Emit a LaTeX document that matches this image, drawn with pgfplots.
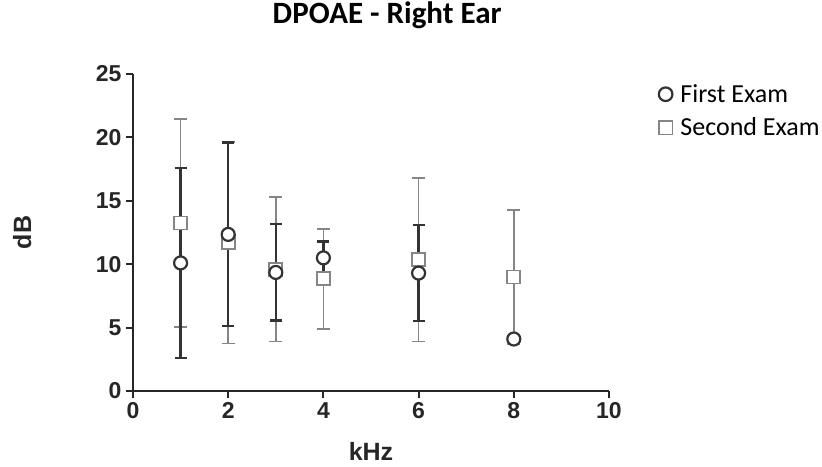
\documentclass[border=0pt]{standalone}
\usepackage{fontspec}
\setmainfont{Liberation Sans}
\newfontfamily\calibri{Carlito}
\usepackage{pgfplots}
\pgfplotsset{compat=1.18}

\definecolor{firstc}{HTML}{333333}
\definecolor{secondc}{HTML}{858585}

% x, mean, sd
\pgfplotstableread{
x  y     e
1  10.10 7.50
2  12.35 7.25
3  9.35  3.80
4  10.50 1.30
6  9.30  3.80
8  4.10  0.00
}\firstexam
\pgfplotstableread{
x  y     e
1  13.25 8.20
2  11.70 7.95
3  9.60  5.70
4  8.85  3.95
6  10.35 6.45
8  9.00  5.30
}\secondexam

\begin{document}
\begin{tikzpicture}
\path[use as bounding box] (-133pt,-75pt) rectangle (689pt,391pt);
\begin{axis}[
    scale only axis,
    width=476pt, height=317pt,
    xmin=0, xmax=10, ymin=0, ymax=25,
    xtick={0,2,...,10}, ytick={0,5,...,25},
    axis lines*=left,
    axis line style={line width=2.6pt, color=black!85},
    tick align=outside,
    major tick length=7pt,
    tick style={line width=2pt, color=black!85},
    /pgf/number format/assume math mode=true,
    ticklabel style={font=\bfseries\fontsize{23}{25}\selectfont, text=black!85},
    xticklabel style={yshift=-1pt},
    yticklabel style={xshift=-1pt},
    xlabel={kHz}, ylabel={dB},
    every axis x label/.style={at={(axis description cs:0.5,-0.19)}, anchor=center,
        font=\bfseries\fontsize{25}{27}\selectfont, text=black!85},
    every axis y label/.style={at={(axis description cs:-0.233,0.5)}, anchor=center, rotate=90,
        font=\bfseries\fontsize{25}{27}\selectfont, text=black!85},
    title={DPOAE - Right Ear},
    title style={font=\calibri\bfseries\fontsize{31}{33}\selectfont, at={(axis description cs:0.534,1)}, anchor=center, yshift=53pt},
    legend style={at={(axis description cs:1.098,0.98)}, anchor=north west, draw=none, fill=none,
        font=\calibri\fontsize{26}{28}\selectfont, row sep=10pt,
        /tikz/every odd column/.append style={column sep=6pt}},
    legend image post style={mark size=6.8pt},
    legend cell align=left,
    reverse legend,
    clip=false,
]
\addplot[only marks, mark=square*, mark size=6.5pt,
    mark options={fill=white, draw=secondc, line width=1.7pt},
    error bars/.cd, y dir=both, y explicit,
    error bar style={line width=1.7pt, color=secondc},
    error mark options={rotate=90, mark size=6.5pt, line width=1.7pt, color=secondc}]
    table[x=x, y=y, y error=e] {\secondexam};
\addplot[only marks, mark=*, mark size=6.5pt,
    mark options={fill=white, draw=firstc, line width=2.2pt},
    error bars/.cd, y dir=both, y explicit,
    error bar style={line width=2.3pt, color=firstc},
    error mark options={rotate=90, mark size=6pt, line width=2.3pt, color=firstc}]
    table[x=x, y=y, y error=e] {\firstexam};
\legend{Second Exam, First Exam}
\end{axis}
\end{tikzpicture}
\end{document}
